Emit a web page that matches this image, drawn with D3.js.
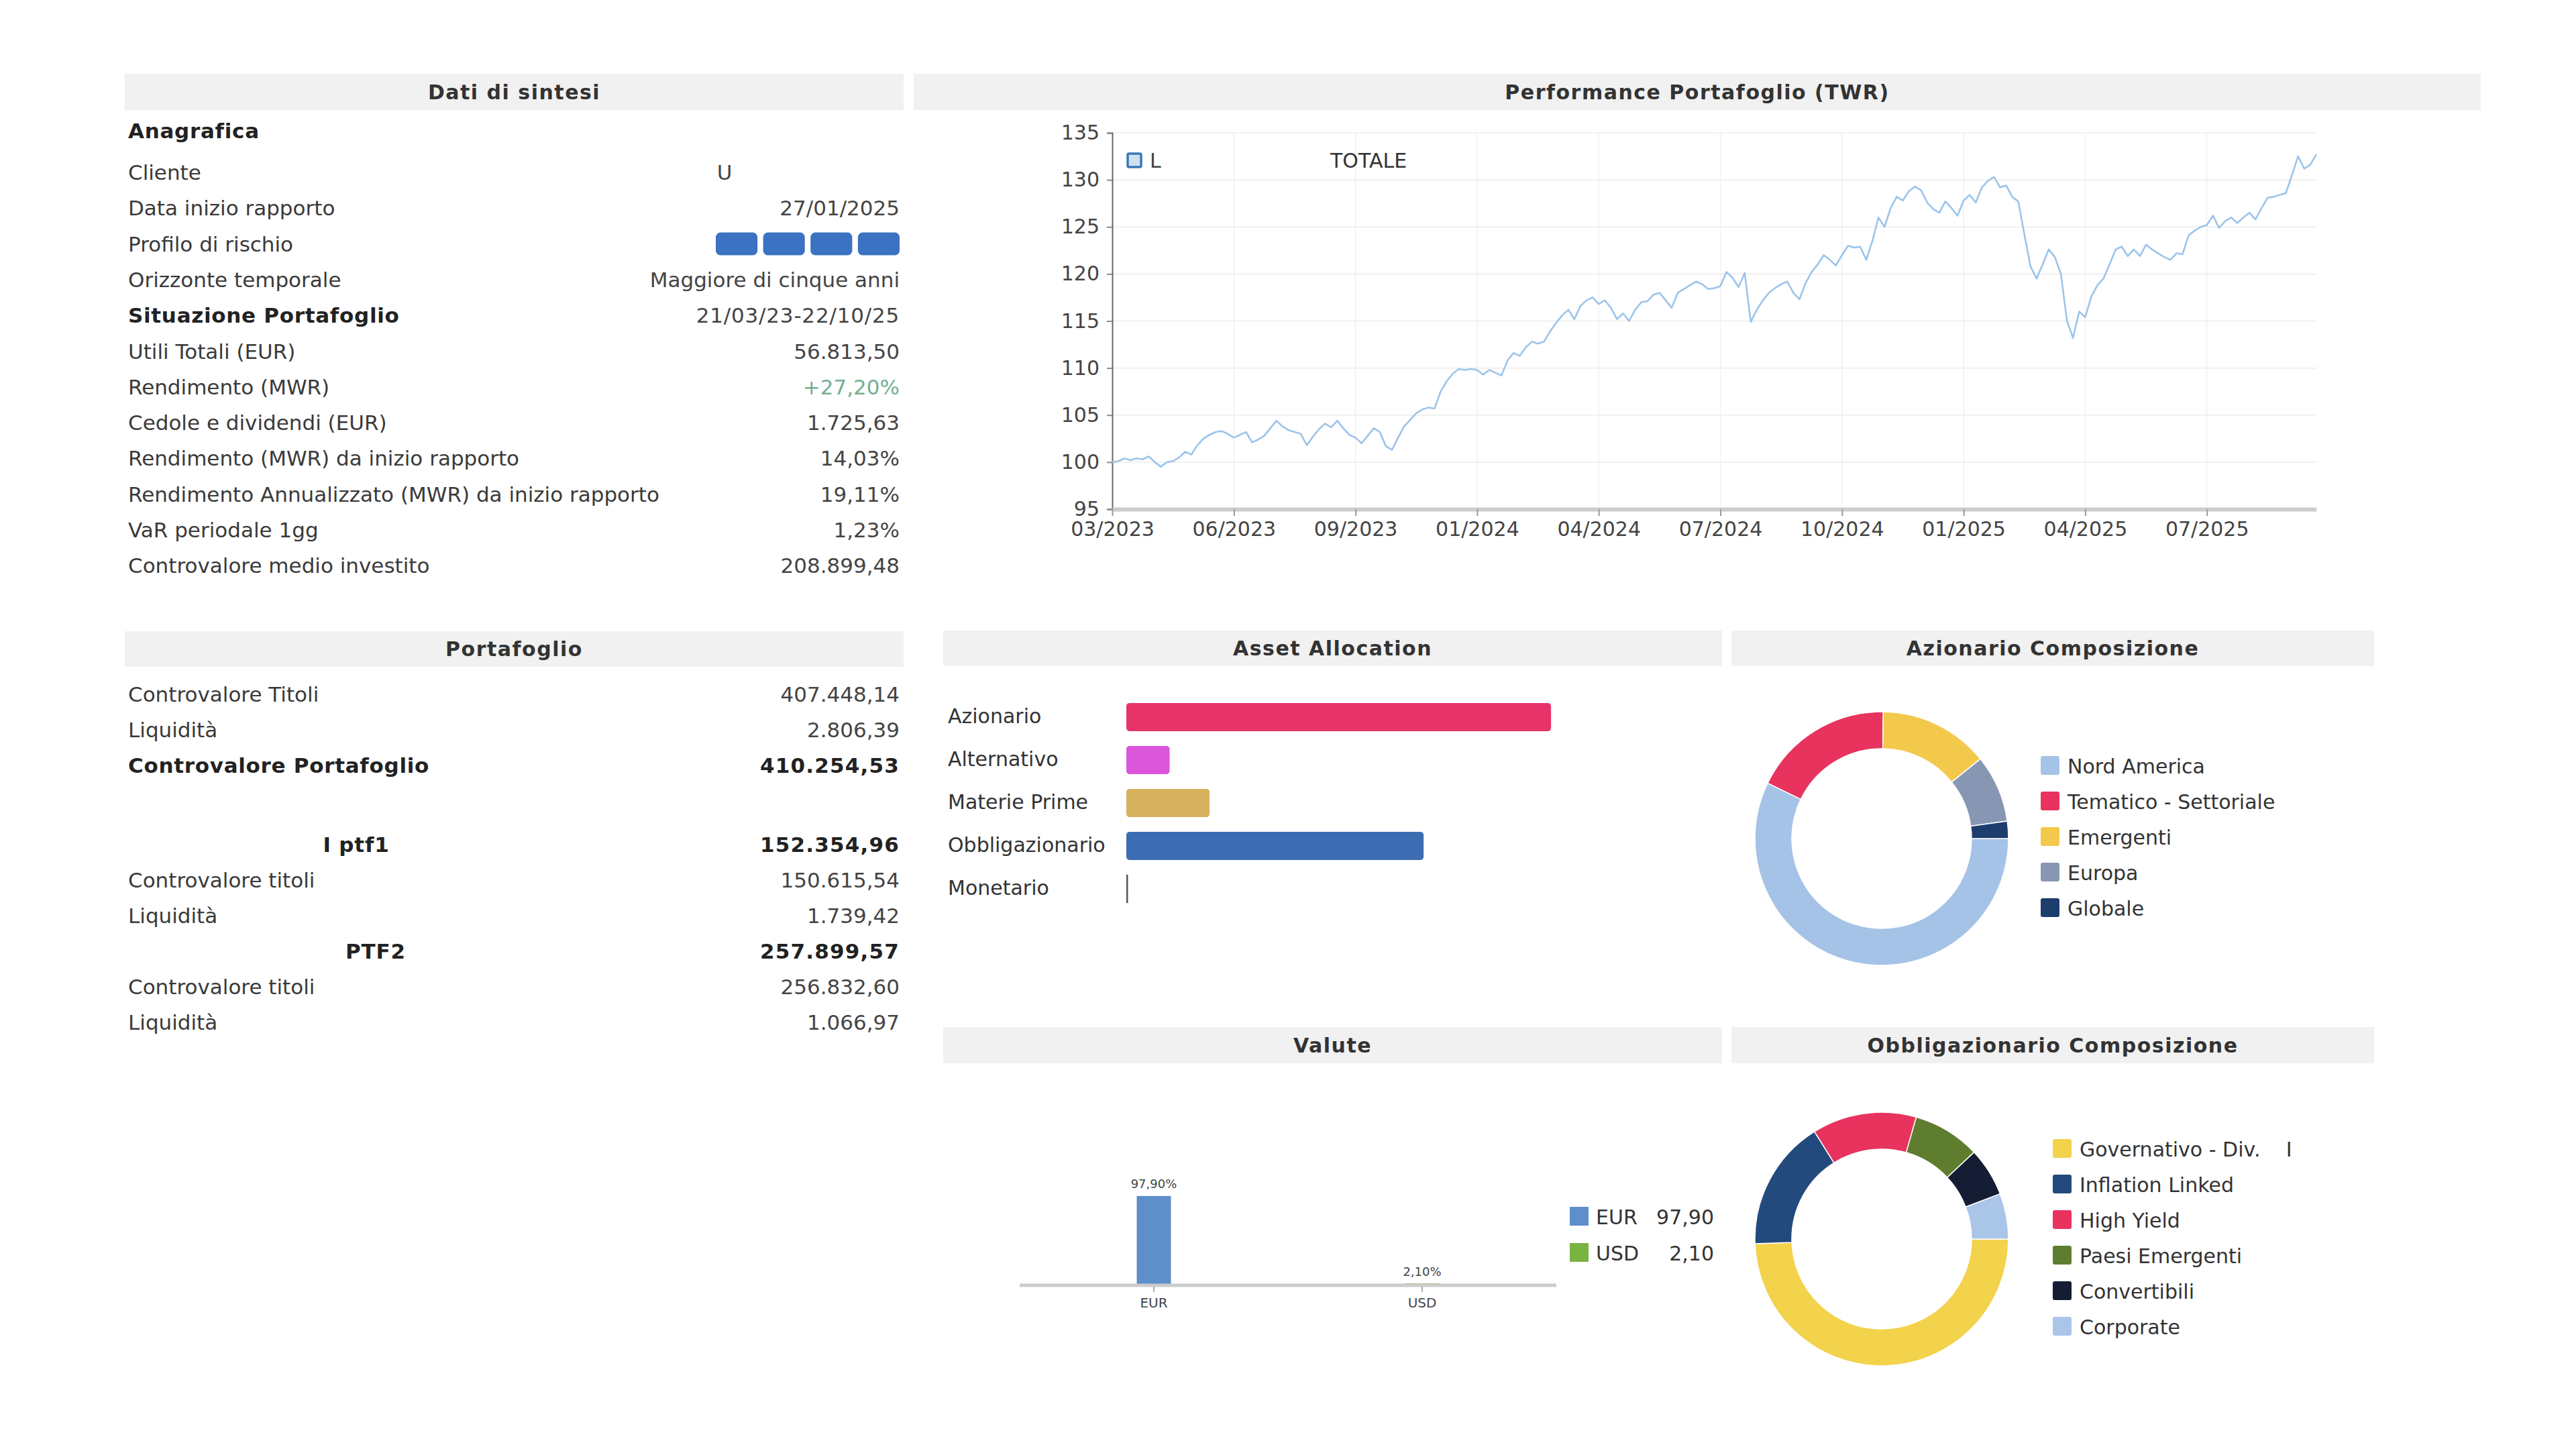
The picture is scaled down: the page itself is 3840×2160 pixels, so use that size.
<!DOCTYPE html>
<html><head><meta charset="utf-8">
<script src="https://cdn.jsdelivr.net/npm/d3@7"></script>
<style>
body{margin:0;background:#fff;}
svg{display:block;}
text{font-family:"DejaVu Sans",sans-serif;}
</style>
</head><body>
<svg id="c" width="3840" height="2160"></svg>
<script>
// ---------------- DATA ----------------
const sintesiLabels = ["Cliente","Data inizio rapporto","Profilo di rischio","Orizzonte temporale","Situazione Portafoglio","Utili Totali (EUR)","Rendimento (MWR)","Cedole e dividendi (EUR)","Rendimento (MWR) da inizio rapporto","Rendimento Annualizzato (MWR) da inizio rapporto","VaR periodale 1gg","Controvalore medio investito"];
const sintesiValues = ["U","27/01/2025","","Maggiore di cinque anni","21/03/23-22/10/25","56.813,50","+27,20%","1.725,63","14,03%","19,11%","1,23%","208.899,48"];
const sintesiBold = [false,false,false,false,true,false,false,false,false,false,false,false];
const riskLevel = 4;
const riskSteps = 4;

const portLabels = ["Controvalore Titoli","Liquidità","Controvalore Portafoglio","","I ptf1","Controvalore titoli","Liquidità","PTF2","Controvalore titoli","Liquidità"];
const portValues = ["407.448,14","2.806,39","410.254,53","","152.354,96","150.615,54","1.739,42","257.899,57","256.832,60","1.066,97"];
const portKind = ["n","n","b","","h","n","n","h","n","n"];

const perfTickLabels = ["03/2023","06/2023","09/2023","01/2024","04/2024","07/2024","10/2024","01/2025","04/2025","07/2025"];
const perfYTicks = [95,100,105,110,115,120,125,130,135];
const perfValues = [
100.0,100.1,100.4,100.2,100.4,100.3,100.6,100.0,99.5,100.0,
100.1,100.5,101.1,100.8,101.8,102.5,102.9,103.2,103.3,103.0,
102.6,102.9,103.2,102.1,102.4,102.8,103.6,104.4,103.8,103.4,
103.2,103.0,101.8,102.7,103.5,104.1,103.7,104.4,103.6,102.9,
102.6,102.0,102.8,103.6,103.2,101.7,101.3,102.6,103.8,104.5,
105.2,105.6,105.8,105.7,107.5,108.6,109.4,109.9,109.8,109.9,
109.8,109.3,109.8,109.5,109.2,110.8,111.6,111.3,112.2,112.8,
112.6,112.8,113.9,114.8,115.6,116.2,115.2,116.6,117.2,117.5,
116.8,117.2,116.4,115.2,115.8,115.0,116.2,117.0,117.1,117.8,
118.0,117.2,116.4,118.0,118.4,118.8,119.2,118.9,118.4,118.5,
118.7,120.2,119.6,118.6,120.1,114.9,116.2,117.2,118.0,118.5,
118.9,119.2,118.0,117.3,119.0,120.2,121.0,122.0,121.5,120.9,
122.0,123.0,122.8,122.9,121.5,123.5,126.0,125.0,127.0,128.2,
127.8,128.8,129.3,128.9,127.6,126.9,126.5,127.7,127.0,126.2,
127.8,128.4,127.6,129.2,129.9,130.3,129.2,129.4,128.2,127.7,
124.2,120.8,119.5,121.0,122.6,121.8,120.0,115.0,113.2,116.0,
115.4,117.6,118.8,119.5,121.0,122.6,122.9,121.9,122.6,121.9,
123.1,122.6,122.2,121.8,121.5,122.2,122.1,124.1,124.6,125.0,
125.2,126.2,124.9,125.6,126.0,125.4,126.0,126.5,125.8,127.0,
128.1,128.2,128.4,128.6,130.5,132.5,131.2,131.6,132.7];
const perfLegend = ["L","TOTALE"];

const assetCategories = ["Azionario","Alternativo","Materie Prime","Obbligazionario","Monetario"];
const assetValues = [50.0, 5.1, 9.8, 35.0, 0.1];
const assetColors = ["#e8336a","#dc56dc","#d6b25e","#3c6db2","#555555"];

const azLabels = ["Nord America","Tematico - Settoriale","Emergenti","Europa","Globale"];
const azValues = [57.2, 18.0, 14.0, 8.6, 2.2];
const azColors = ["#a5c3e6","#e8335f","#f3c94b","#8797b3","#1d3d6e"];

const obLabels = ["Governativo - Div.    I","Inflation Linked","High Yield","Paesi Emergenti","Convertibili","Corporate"];
const obValues = [49.4, 16.7, 13.3, 8.6, 6.2, 5.8];
const obColors = ["#f3d24c","#234a7d","#e8335f","#5f7d2e","#141d33","#a9c5e8"];

const curLabels = ["EUR","USD"];
const curValues = [97.90, 2.10];
const curColors = ["#5e8fcb","#79b443"];

// ---------------- DRAW ----------------
const svg = d3.select("#c");
const itFmt = d3.format(".2f");
const it = v => itFmt(v).replace(".", ",");

function header(x0, x1, y0, y1, title){
  svg.append("rect").attr("x",x0).attr("y",y0).attr("width",x1-x0).attr("height",y1-y0).attr("fill","#f1f1f1");
  svg.append("text").attr("x",(x0+x1)/2).attr("y",(y0+y1)/2).attr("text-anchor","middle")
    .attr("dominant-baseline","central").attr("font-size",30).attr("font-weight","bold")
    .attr("letter-spacing","1.5px").attr("fill","#333").text(title);
}
header(186,1347,110,164,"Dati di sintesi");
header(1362,3698,110,164,"Performance Portafoglio (TWR)");
header(186,1347,941,994,"Portafoglio");
header(1406,2567,940,993,"Asset Allocation");
header(2581,3539,940,993,"Azionario Composizione");
header(1406,2567,1531,1585,"Valute");
header(2581,3539,1531,1585,"Obbligazionario Composizione");

// ---- Dati di sintesi table
const LX = 191, RX = 1341;
svg.append("text").attr("x",LX).attr("y",195).attr("dominant-baseline","central")
  .attr("font-size",31).attr("font-weight","bold").attr("letter-spacing","0.7px").attr("fill","#222").text("Anagrafica");
const rowY = d3.scaleLinear().domain([0,1]).range([257, 310.3]);
sintesiLabels.forEach((lab,i)=>{
  const y = rowY(i);
  svg.append("text").attr("x",LX).attr("y",y).attr("dominant-baseline","central")
    .attr("font-size",31).attr("font-weight",sintesiBold[i]?"bold":"normal")
    .attr("letter-spacing",sintesiBold[i]?"0.7px":"0px")
    .attr("fill",sintesiBold[i]?"#222":"#3a3a3a").text(lab);
  const v = sintesiValues[i];
  if(i===0){
    svg.append("text").attr("x",1080).attr("y",y).attr("text-anchor","middle").attr("dominant-baseline","central")
      .attr("font-size",31).attr("fill","#444").text(v);
  } else if(v!==""){
    svg.append("text").attr("x",RX).attr("y",y).attr("text-anchor","end").attr("dominant-baseline","central")
      .attr("font-size",31).attr("fill", lab==="Rendimento (MWR)" ? "#74ae90" : "#444")
      .attr("letter-spacing", i===4 ? "0.8px":"0px").text(v);
  }
});
// risk profile boxes
const riskX = d3.scaleBand().domain(d3.range(riskSteps)).range([1067,1341]).paddingInner(0.12);
svg.append("g").selectAll("rect").data(d3.range(riskSteps)).join("rect")
  .attr("x",d=>riskX(d)).attr("y",rowY(2)-17).attr("width",riskX.bandwidth()).attr("height",34)
  .attr("rx",7).attr("fill",d=> d<riskLevel ? "#3b72c2" : "#dddddd");

// ---- Portafoglio table
portLabels.forEach((lab,i)=>{
  if(lab==="") return;
  const y = 1035 + i*53 + (i>=4 ? 12 : 0);
  const k = portKind[i];
  const lt = svg.append("text").attr("y",y).attr("dominant-baseline","central").attr("font-size",31).text(lab);
  if(k==="h"){
    lt.attr("x", i===4 ? 531 : 560).attr("text-anchor","middle").attr("font-weight","bold").attr("letter-spacing","0.8px").attr("fill","#222");
  } else {
    lt.attr("x",LX).attr("font-weight",k==="b"?"bold":"normal").attr("letter-spacing",k==="b"?"0.7px":"0px").attr("fill",k==="b"?"#222":"#3a3a3a");
  }
  svg.append("text").attr("x",RX).attr("y",y).attr("text-anchor","end").attr("dominant-baseline","central")
    .attr("font-size",31).attr("font-weight",(k==="b"||k==="h")?"bold":"normal")
    .attr("letter-spacing",(k==="b"||k==="h")?"1.2px":"0px")
    .attr("fill",(k==="b"||k==="h")?"#222":"#444").text(portValues[i]);
});

// ---- Performance line chart
const px = d3.scaleLinear().domain([0, perfValues.length-1]).range([1658, 1658 + (perfValues.length-1)*9.065]);
const py = d3.scaleLinear().domain([95,135]).range([759,198]);
const tickIdx = perfTickLabels.map((d,i)=>i*20);
const grid = svg.append("g");
grid.selectAll("line.h").data(perfYTicks.slice(1)).join("line")
  .attr("x1",1658).attr("x2",px.range()[1]).attr("y1",d=>py(d)).attr("y2",d=>py(d))
  .attr("stroke","#ececec").attr("stroke-width",1.5);
grid.selectAll("line.v").data(tickIdx.slice(1)).join("line")
  .attr("x1",d=>px(d)).attr("x2",d=>px(d)).attr("y1",198).attr("y2",759)
  .attr("stroke","#f0f0f0").attr("stroke-width",1.5);

const yAx = svg.append("g").attr("transform","translate(1658,0)")
  .call(d3.axisLeft(py).tickValues(perfYTicks).tickSize(8).tickPadding(11));
yAx.select(".domain").attr("stroke","#666").attr("stroke-width",2);
yAx.selectAll(".tick line").attr("stroke","#888").attr("stroke-width",2);
yAx.selectAll("text").attr("font-family","'Liberation Sans',Arial,sans-serif").attr("font-size",30).attr("fill","#444");

const xAx = svg.append("g").attr("transform","translate(0,759)")
  .call(d3.axisBottom(px).tickValues(tickIdx).tickFormat((d,i)=>perfTickLabels[i]).tickSize(10).tickPadding(9).tickSizeOuter(0));
xAx.select(".domain").attr("stroke","#cccccc").attr("stroke-width",6);
xAx.selectAll(".tick line").attr("stroke","#999").attr("stroke-width",2);
xAx.selectAll("text").attr("font-family","'Liberation Sans',Arial,sans-serif").attr("font-size",30).attr("fill","#444");

svg.append("path").datum(perfValues)
  .attr("d", d3.line().x((d,i)=>px(i)).y(d=>py(d)))
  .attr("fill","none").attr("stroke","#9cc4ea").attr("stroke-width",2.6).attr("stroke-linejoin","round");

svg.append("rect").attr("x",1681).attr("y",229).attr("width",20).attr("height",20).attr("rx",2)
  .attr("fill","#cfe0f2").attr("stroke","#3a78b5").attr("stroke-width",3.5);
svg.append("text").attr("x",1714).attr("y",239).attr("dominant-baseline","central")
  .attr("font-family","'Liberation Sans',Arial,sans-serif").attr("font-size",30).attr("fill","#444").text(perfLegend[0]);
svg.append("text").attr("x",1983).attr("y",239).attr("dominant-baseline","central")
  .attr("font-family","'Liberation Sans',Arial,sans-serif").attr("font-size",30).attr("fill","#333").text(perfLegend[1]);

// ---- Asset allocation bars
const ax = d3.scaleLinear().domain([0,69.5]).range([1679,2559]);
const ay = d3.scaleBand().domain(assetCategories).range([1037,1357]).paddingInner(0.34).paddingOuter(0.17);
svg.append("g").selectAll("rect").data(assetCategories).join("rect")
  .attr("x",ax(0)).attr("y",d=>ay(d)).attr("height",ay.bandwidth())
  .attr("width",(d,i)=>Math.max(ax(assetValues[i])-ax(0),2.5)).attr("rx",(d,i)=>assetValues[i]<1?0:5)
  .attr("fill",(d,i)=>assetColors[i]);
svg.append("g").selectAll("text").data(assetCategories).join("text")
  .attr("x",1413).attr("y",d=>ay(d)+ay.bandwidth()/2-2).attr("dominant-baseline","central")
  .attr("font-size",30).attr("fill","#333").text(d=>d);

// ---- Donuts
function donut(cx, cy, labels, values, colors, legX, legY0){
  const pie = d3.pie().sort(null).startAngle(Math.PI/2).endAngle(Math.PI/2 + 2*Math.PI);
  const arc = d3.arc().innerRadius(134).outerRadius(189);
  const g = svg.append("g").attr("transform",`translate(${cx},${cy})`);
  g.selectAll("path").data(pie(values)).join("path").attr("d",arc)
    .attr("fill",(d,i)=>colors[i]).attr("stroke","#fff").attr("stroke-width",1.5);
  const lg = svg.append("g");
  labels.forEach((lab,i)=>{
    const y = legY0 + i*53;
    lg.append("rect").attr("x",legX).attr("y",y-14).attr("width",28).attr("height",28).attr("rx",3).attr("fill",colors[i]);
    lg.append("text").attr("x",legX+40).attr("y",y+1).attr("dominant-baseline","central")
      .attr("font-size",30).attr("fill","#333").attr("xml:space","preserve").style("white-space","pre").text(lab);
  });
}
donut(2805,1250,azLabels,azValues,azColors,3042,1141);
donut(2805,1847,obLabels,obValues,obColors,3060,1712);

// ---- Valute bar chart
const cx = d3.scaleBand().domain(curLabels).range([1520,2320]).paddingInner(0.8725).paddingOuter(0.43625);
const cy = d3.scaleLinear().domain([0,100]).range([1916,1780]);
svg.append("g").selectAll("rect").data(curLabels).join("rect")
  .attr("x",d=>cx(d)).attr("width",cx.bandwidth())
  .attr("y",(d,i)=>cy(curValues[i])).attr("height",(d,i)=>cy(0)-cy(curValues[i]))
  .attr("fill",(d,i)=>curColors[i]);
svg.append("line").attr("x1",1520).attr("x2",2320).attr("y1",1916).attr("y2",1916).attr("stroke","#cccccc").attr("stroke-width",5);
svg.append("g").selectAll("line").data(curLabels).join("line")
  .attr("x1",d=>cx(d)+cx.bandwidth()/2).attr("x2",d=>cx(d)+cx.bandwidth()/2).attr("y1",1918).attr("y2",1926)
  .attr("stroke","#aaa").attr("stroke-width",2);
svg.append("g").selectAll("text").data(curLabels).join("text")
  .attr("x",d=>cx(d)+cx.bandwidth()/2).attr("y",(d,i)=>cy(curValues[i])-18).attr("text-anchor","middle")
  .attr("dominant-baseline","central").attr("font-size",18).attr("fill","#444").text((d,i)=>it(curValues[i])+"%");
svg.append("g").selectAll("text").data(curLabels).join("text")
  .attr("x",d=>cx(d)+cx.bandwidth()/2).attr("y",1942).attr("text-anchor","middle")
  .attr("dominant-baseline","central").attr("font-size",20).attr("fill","#444").text(d=>d);
curLabels.forEach((lab,i)=>{
  const y = 1813 + i*54;
  svg.append("rect").attr("x",2340).attr("y",y-14).attr("width",28).attr("height",28).attr("fill",curColors[i]);
  svg.append("text").attr("x",2379).attr("y",y+1).attr("dominant-baseline","central").attr("font-size",30).attr("fill","#333").text(lab);
  svg.append("text").attr("x",2555).attr("y",y+1).attr("text-anchor","end").attr("dominant-baseline","central").attr("font-size",30).attr("fill","#333").text(it(curValues[i]));
});
</script>
</body></html>
